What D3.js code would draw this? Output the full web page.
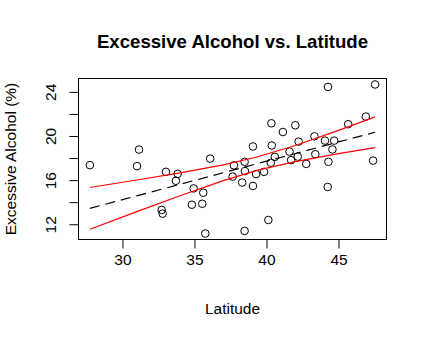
<!DOCTYPE html>
<html>
<head>
<meta charset="utf-8">
<script src="https://cdn.jsdelivr.net/npm/d3@7"></script>
<style>
  html, body { margin: 0; padding: 0; background: #fff; }
  svg { display: block; }
  text { font-family: "Liberation Sans", Arial, Helvetica, sans-serif; fill: #000; }
</style>
</head>
<body>
<svg id="chart" width="428" height="338"></svg>
<script>
// ---- data ----
const latitude = [27.74, 31.15, 31.01, 36.09, 33.02, 33.83, 33.71, 34.94, 35.61, 34.82,
  35.54, 32.72, 32.79, 35.75, 44.27, 47.54, 40.34, 42.00, 41.14, 46.90,
  45.67, 39.06, 40.37, 42.23, 43.33, 44.06, 44.70, 44.58, 41.60, 40.58,
  42.17, 41.71, 43.39, 42.76, 44.30, 47.40, 37.74, 38.48, 38.50, 37.65,
  39.28, 39.83, 40.30, 38.31, 39.06, 44.25, 40.13, 38.48];
const excessiveAlcohol = [17.36, 18.77, 17.27, 17.95, 16.75, 16.57, 15.94, 15.25, 14.86, 13.77,
  13.86, 13.30, 12.96, 11.16, 24.45, 24.67, 21.15, 20.97, 20.36, 21.76,
  21.07, 19.05, 19.14, 19.49, 19.97, 19.58, 19.58, 18.78, 18.58, 18.11,
  18.13, 17.81, 18.35, 17.47, 17.66, 17.77, 17.34, 17.66, 16.82, 16.32,
  16.55, 16.75, 17.57, 15.78, 15.47, 15.38, 12.39, 11.40];

// fitted regression line (dashed) and confidence band (red), read at these latitudes
const bandLatitude = [27.74, 31, 34, 37, 39.4, 42, 45, 47.54];
const fitValue     = [13.44, 14.58, 15.62, 16.67, 17.51, 18.41, 19.46, 20.34];
const upperBand    = [15.33, 16.01, 16.65, 17.38, 18.12, 19.14, 20.51, 21.73];
const lowerBand    = [11.55, 13.15, 14.59, 15.96, 16.90, 17.68, 18.40, 18.95];

const xTicks = [30, 35, 40, 45];
const yTicks = [12, 14, 16, 18, 20, 22, 24];
const yTickLabels = [12, 16, 20, 24];

const titleText = "Excessive Alcohol vs. Latitude";
const xLabel = "Latitude";
const yLabel = "Excessive Alcohol (%)";

// ---- layout ----
const box = { left: 78.5, right: 386.5, top: 78.5, bottom: 239.5 };
const pad = e => { const d = (e[1] - e[0]) * 0.04; return [e[0] - d, e[1] + d]; };

const x = d3.scaleLinear().domain(pad(d3.extent(latitude))).range([box.left, box.right]);
const y = d3.scaleLinear().domain(pad(d3.extent(excessiveAlcohol))).range([box.bottom, box.top]);

const svg = d3.select("#chart");
const fontSize = 15.5;

// title
svg.append("text")
  .attr("x", (box.left + box.right) / 2)
  .attr("y", 48)
  .attr("text-anchor", "middle")
  .style("font-size", "18.6px")
  .style("font-weight", "bold")
  .text(titleText);

// points
svg.append("g").selectAll("circle")
  .data(latitude.map((d, i) => [d, excessiveAlcohol[i]]))
  .join("circle")
  .attr("cx", d => x(d[0]))
  .attr("cy", d => y(d[1]))
  .attr("r", 3.8)
  .attr("fill", "none")
  .attr("stroke", "#000")
  .attr("stroke-width", 1);

// regression line
const lineOf = vals => d3.line().x((d, i) => x(bandLatitude[i])).y(d => y(d))(vals);
svg.append("path")
  .attr("d", lineOf(fitValue))
  .attr("fill", "none")
  .attr("stroke", "#000")
  .attr("stroke-width", 1.2)
  .attr("stroke-dasharray", "10,6");

[upperBand, lowerBand].forEach(b => {
  svg.append("path")
    .attr("d", lineOf(b))
    .attr("fill", "none")
    .attr("stroke", "#ff0000")
    .attr("stroke-width", 1.2);
});

// box
svg.append("rect")
  .attr("x", box.left).attr("y", box.top)
  .attr("width", box.right - box.left).attr("height", box.bottom - box.top)
  .attr("fill", "none").attr("stroke", "#000").attr("stroke-width", 1);

// x axis
const xAxis = d3.axisBottom(x).tickValues(xTicks).tickSize(9).tickPadding(5).tickFormat(d3.format("d"));
const gx = svg.append("g").attr("transform", `translate(0,${box.bottom})`).call(xAxis);
gx.select(".domain").attr("d", `M${x(xTicks[0])},0H${x(xTicks[xTicks.length - 1])}`);
gx.selectAll("text").style("font-size", fontSize + "px").attr("font-family", null);

// y axis
const yAxis = d3.axisLeft(y).tickValues(yTicks).tickSize(9)
  .tickFormat(d => yTickLabels.includes(d) ? String(d) : "");
const gy = svg.append("g").attr("transform", `translate(${box.left},0)`).call(yAxis);
gy.select(".domain").attr("d", `M0,${y(yTicks[0])}V${y(yTicks[yTicks.length - 1])}`);
gy.selectAll("text")
  .style("font-size", fontSize + "px")
  .attr("font-family", null)
  .attr("x", null).attr("dy", null)
  .attr("text-anchor", "middle")
  .attr("transform", "translate(-23,0) rotate(-90) translate(0,0)");
gy.selectAll(".tick line, .domain").attr("stroke", "#000");
gx.selectAll(".tick line, .domain").attr("stroke", "#000");

// axis titles
svg.append("text")
  .attr("x", (box.left + box.right) / 2)
  .attr("y", 313.5)
  .attr("text-anchor", "middle")
  .style("font-size", fontSize + "px")
  .text(xLabel);

svg.append("text")
  .attr("transform", `translate(15.5,${(box.top + box.bottom) / 2}) rotate(-90)`)
  .attr("text-anchor", "middle")
  .style("font-size", fontSize + "px")
  .text(yLabel);
</script>
</body>
</html>
